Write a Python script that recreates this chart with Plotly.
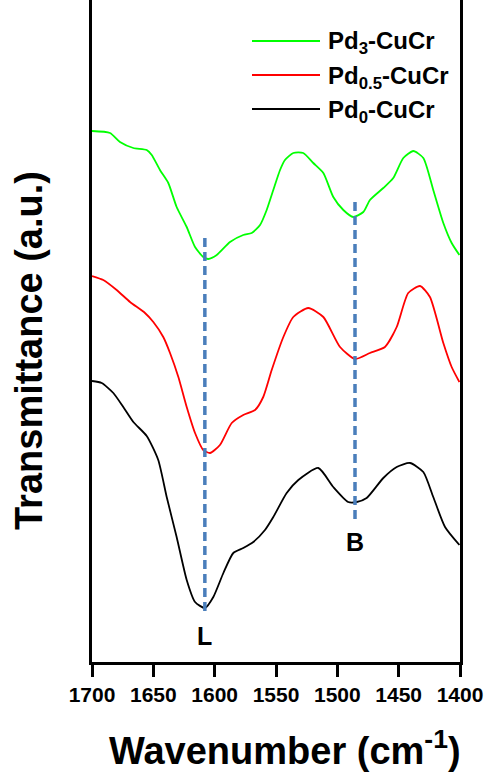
import plotly.graph_objects as go

# Wavenumbers (cm^-1) and transmittance (a.u., arbitrary offset)
green_x = [1700, 1685.3, 1677.2, 1666.3, 1655.4, 1651.3, 1644.6, 1637.8, 1631.0, 1622.8, 1616.0, 1609.3, 1605.2,
           1598.3, 1587.5, 1576.7, 1569.8, 1563.0, 1557.6, 1552.2, 1546.7, 1542.7, 1535.9, 1527.8, 1519.6, 1511.4,
           1503.3, 1495.1, 1487.0, 1478.8, 1473.4, 1462.5, 1454.4, 1446.2, 1438.1, 1429.9, 1421.8, 1413.6, 1406.8, 1400.5]
green_y = [5.31, 5.29, 5.20, 5.14, 5.12, 5.07, 4.92, 4.79, 4.55, 4.35, 4.15, 4.05, 4.03,
           4.07, 4.20, 4.27, 4.29, 4.37, 4.52, 4.72, 4.92, 5.02, 5.09, 5.09, 4.99, 4.89,
           4.65, 4.52, 4.45, 4.50, 4.62, 4.74, 4.84, 5.04, 5.11, 5.04, 4.72, 4.39, 4.19, 4.07]

red_x = [1700, 1690.8, 1679.9, 1669.0, 1656.8, 1650.0, 1641.9, 1636.4, 1629.6, 1622.8, 1616.0, 1609.3, 1603.8,
         1595.7, 1586.1, 1576.7, 1567.1, 1560.4, 1553.5, 1544.0, 1535.9, 1523.7, 1511.4, 1497.8, 1485.6, 1473.4,
         1461.2, 1451.6, 1442.2, 1432.6, 1424.5, 1413.6, 1406.8, 1400.5]
red_y = [3.86, 3.82, 3.72, 3.60, 3.49, 3.40, 3.25, 3.09, 2.85, 2.55, 2.29, 2.12, 2.09,
         2.17, 2.39, 2.47, 2.52, 2.65, 2.92, 3.25, 3.45, 3.54, 3.45, 3.15, 3.03, 3.09,
         3.15, 3.35, 3.69, 3.76, 3.65, 3.19, 2.95, 2.80]

black_x = [1700, 1692.1, 1682.6, 1674.5, 1666.3, 1655.4, 1646.0, 1639.1, 1631.0, 1622.8, 1616.0, 1607.9, 1601.1,
           1592.9, 1584.8, 1576.7, 1568.5, 1559.0, 1552.2, 1541.3, 1531.8, 1515.5, 1503.3, 1491.1, 1484.2, 1476.1,
           1462.5, 1451.6, 1440.8, 1429.9, 1421.8, 1412.2, 1400.5]
black_y = [2.81, 2.79, 2.69, 2.55, 2.40, 2.26, 2.02, 1.65, 1.25, 0.82, 0.60, 0.54, 0.65,
           0.89, 1.09, 1.14, 1.20, 1.32, 1.45, 1.69, 1.82, 1.94, 1.75, 1.60, 1.60, 1.64,
           1.84, 1.95, 1.99, 1.90, 1.65, 1.35, 1.17]

# Marker lines for bands L and B
L_x = [1608, 1608]
L_y = [4.24, 0.49]
B_x = [1485.6, 1485.6]
B_y = [4.60, 1.42]

x_ticks = [1700, 1650, 1600, 1550, 1500, 1450, 1400]

series_names = ["Pd<sub>3</sub>-CuCr", "Pd<sub>0.5</sub>-CuCr", "Pd<sub>0</sub>-CuCr"]
series_colors = ["#00FF00", "#FF0000", "#000000"]

FONT = "Liberation Sans, Arial, sans-serif"
DASH_COLOR = "#4A7EBB"

fig = go.Figure()
for xs, ys, name, col in zip([green_x, red_x, black_x], [green_y, red_y, black_y], series_names, series_colors):
    fig.add_trace(go.Scatter(x=xs, y=ys, mode="lines", name=name, line=dict(color=col, width=1.8, shape="spline", smoothing=0.6), showlegend=False))

for xs, ys in [(L_x, L_y), (B_x, B_y)]:
    fig.add_trace(go.Scatter(x=xs, y=ys, mode="lines", line=dict(color=DASH_COLOR, width=3.5, dash="9px,5px"), showlegend=False))

fig.add_annotation(x=L_x[0], y=0.26, text="<b>L</b>", showarrow=False, font=dict(family=FONT, size=25, color="black"))
fig.add_annotation(x=B_x[0], y=1.2, text="<b>B</b>", showarrow=False, font=dict(family=FONT, size=25, color="black"))

# Legend (manual)
leg_y_px = [41, 75, 109]
for name, col, ypx in zip(series_names, series_colors, leg_y_px):
    yp = (662 - ypx) / 662
    fig.add_shape(type="line", xref="paper", yref="paper", x0=(252 - 92) / 368, x1=(320 - 92) / 368, y0=yp, y1=yp,
                  line=dict(color=col, width=1.8))
    fig.add_annotation(xref="paper", yref="paper", x=(326 - 92) / 368, y=yp, xanchor="left", yanchor="middle",
                       text="<b>" + name + "</b>", showarrow=False, yshift=-2,
                       font=dict(family=FONT, size=24, color="black"))

# Axis titles
fig.add_annotation(xref="paper", yref="paper", x=(285 - 92) / 368, y=(662 - 748) / 662, text="<b>Wavenumber (cm<sup>-1</sup>)</b>",
                   showarrow=False, xanchor="center", yanchor="middle", font=dict(family=FONT, size=38, color="black"))
fig.add_annotation(xref="paper", yref="paper", x=(29 - 92) / 368, y=(662 - 351) / 662, text="<b>Transmittance (a.u.)</b>",
                   showarrow=False, textangle=-90, xanchor="center", yanchor="middle", font=dict(family=FONT, size=38, color="black"))

fig.update_layout(
    width=491, height=774,
    margin=dict(l=92, r=31, t=0, b=112),
    paper_bgcolor="white", plot_bgcolor="white",
    xaxis=dict(range=[1700, 1400], tickvals=x_ticks, ticks="outside", ticklen=12, tickwidth=3, tickcolor="black",
               showline=True, linewidth=3, linecolor="black", showgrid=False, zeroline=False,
               tickfont=dict(family=FONT, size=21, color="black", weight="bold")),
    yaxis=dict(range=[0, 6.62], showticklabels=False, ticks="", showline=True, linewidth=3, linecolor="black",
               mirror=True, showgrid=False, zeroline=False),
)

fig.write_html("out.html", config={"displayModeBar": False}, post_script="document.body.style.margin='0px';")
